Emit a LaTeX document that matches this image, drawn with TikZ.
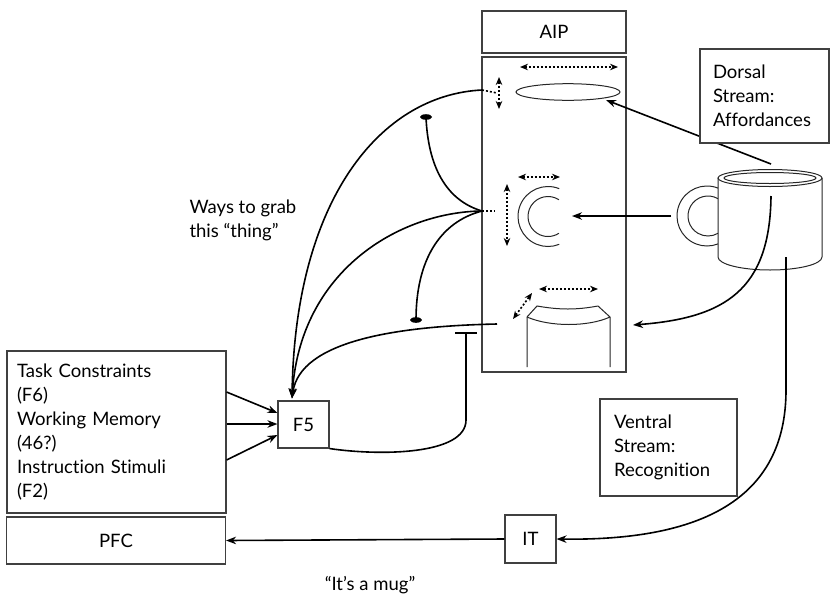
\documentclass[tikz,border=0pt]{standalone}
\usepackage{fontspec}
\setmainfont{Lato}[Ligatures={TeX,NoCommon}]
\usetikzlibrary{arrows.meta,calc}

\begin{document}
\begin{tikzpicture}[x=1pt,y=-1pt,
  box/.style={draw=black!75,line width=1.1pt,fill=white,inner sep=0pt},
  txt/.style={font=\fontsize{18.5}{24}\selectfont},
  wire/.style={line width=1.6pt},
  arr/.style={wire,-{Stealth[length=10pt,width=7.5pt]}},
  dotarr/.style={line width=1.6pt,dash pattern=on 2pt off 2pt,{Stealth[length=8pt,width=6.5pt]}-{Stealth[length=8pt,width=6.5pt]}},
  dots/.style={line width=1.6pt,dash pattern=on 2pt off 2pt},
  outline/.style={line width=1pt,draw=black!85},
  blob/.style={fill=black}]
\useasboundingbox (0,0) rectangle (830,595);

% ---- boxes ----
\node[box,txt,minimum width=144pt,minimum height=42pt] (aip) at (554,32) {AIP};
\node[box,minimum width=144pt,minimum height=315pt] (aipbox) at (554,214.5) {};
\node[box,txt,minimum width=51pt,minimum height=47pt] (f5) at (303.5,424.5) {F5};
\node[box,txt,minimum width=51pt,minimum height=48pt] (it) at (530.5,539) {IT};
\node[box,txt,minimum width=219pt,minimum height=47pt] (pfc) at (116,540.5) {PFC};
\node[box,txt,minimum width=219pt,minimum height=162pt,text width=199pt,align=left,inner xsep=10pt] (task) at (116.5,432)
  {Task Constraints\\(F6)\\Working Memory\\(46?)\\Instruction Stimuli\\(F2)};
\node[box,txt,minimum width=137pt,minimum height=97pt,text width=109pt,align=left,inner xsep=14pt] (ventral) at (668.5,447.5)
  {Ventral\\Stream:\\Recognition};

% ---- AIP contents: grasp types ----
\draw[outline] (568,92) ellipse[x radius=52pt,y radius=8.3pt];
\draw[dotarr] (520,67) -- (618,67);
\draw[dotarr] (499,77) -- (499,109);

\draw[outline] (548,216.5) ++(68:30pt) arc[start angle=68,end angle=292,radius=30pt];
\draw[outline] (548,216.5) ++(57:20pt) arc[start angle=57,end angle=303,radius=20pt];
\draw[dotarr] (518,177) -- (560,177);
\draw[dotarr] (507,184) -- (507,246);

\draw[outline] (527,367) -- (527,317) -- (537,306)
  .. controls (560,310) and (576,310) .. (598,306) -- (610,317) -- (610,367);
\draw[outline] (527,317) .. controls (550,327) and (588,327) .. (610,317);
\draw[dotarr] (539,289) -- (598,289);
\draw[dotarr] (513,319) -- (532,293);

% ---- mug ----
\draw[outline] (718,178) -- (718,257) arc[start angle=180,end angle=360,x radius=52pt,y radius=13pt] -- (822,178);
\draw[outline] (770,178) ellipse[x radius=52pt,y radius=8.5pt];
\draw[outline] (770,178) ellipse[x radius=46pt,y radius=5.5pt];
\draw[outline] (707,216) ++(68.5:30pt) arc[start angle=68.5,end angle=291.5,radius=30pt];
\draw[outline] (708,216) ++(60:20pt) arc[start angle=60,end angle=300,radius=20pt];

% ---- connection points ----
\coordinate (ptop) at (482,90);
\coordinate (pmid) at (482,211);
\coordinate (pbot) at (497,324);
\coordinate (f5in) at ($(f5.north)+(-11.5,-2)$);
\coordinate (blobA) at (426,117);
\coordinate (blobB) at (416,320);
\coordinate (tbar) at (466,333);
\coordinate (handle) at (671,216);
\coordinate (cgrip) at (572,216);
\coordinate (rim) at (771,164);
\coordinate (flat) at (606,100);
\coordinate (inside) at (771,196);
\coordinate (cyl) at (633,325);
\coordinate (base) at (786,257);

\draw[dots] (ptop) -- (497,93);
\draw[dots] (pmid) -- (495,211);

% ---- AIP to F5 ----
\draw[arr] (ptop) .. controls (380,95) and (295,200) .. (f5in);
\draw[arr] (pmid) .. controls (400,212) and (300,270) .. (f5in);
\draw[arr] (pbot) .. controls (400,326) and (300,340) .. (f5in);

% ---- mutual inhibition ----
\draw[wire] (pmid) .. controls (445,200) and (428,165) .. (blobA);
\fill[blob] (blobA) ellipse[x radius=6pt,y radius=2.8pt];
\draw[wire] (pmid) .. controls (440,222) and (416,260) .. (blobB);
\fill[blob] (blobB) ellipse[x radius=6pt,y radius=2.8pt];

% ---- F5 back to AIP ----
\draw[wire] (f5.south east) .. controls (380,456) and (466,455) .. (466,420) -- (tbar);
\draw[wire] ($(tbar)+(-11,0)$) -- ($(tbar)+(11,0)$);

% ---- prefrontal inputs ----
\draw[arr] ([yshift=40pt]task.east) -- ([yshift=11.5pt]f5.west);
\draw[arr] ([yshift=8pt]task.east) -- ([yshift=0.5pt]f5.west);
\draw[arr] ([yshift=-28pt]task.east) -- ([yshift=-10.5pt]f5.west);

% ---- streams from the mug ----
\draw[arr] (handle) -- (cgrip);
\draw[arr] (rim) -- (flat);
\draw[arr] (inside) .. controls (770,290) and (725,318) .. (cyl);
\draw[arr] (base) -- (786,390) .. controls (786,500) and (700,541) .. (it.east);
\draw[arr] (it.west) -- (pfc.east);

\node[box,txt,minimum width=129pt,minimum height=94pt,text width=103pt,align=left,inner xsep=13pt] (dorsal) at (764.5,96)
  {Dorsal\\Stream:\\Affordances};

% ---- free labels ----
\node[txt,align=left,anchor=west] (ways) at (186,220) {Ways to grab\\this “thing”};
\node[txt] (mug) at (370,585) {“It's a mug”};
\end{tikzpicture}
\end{document}
